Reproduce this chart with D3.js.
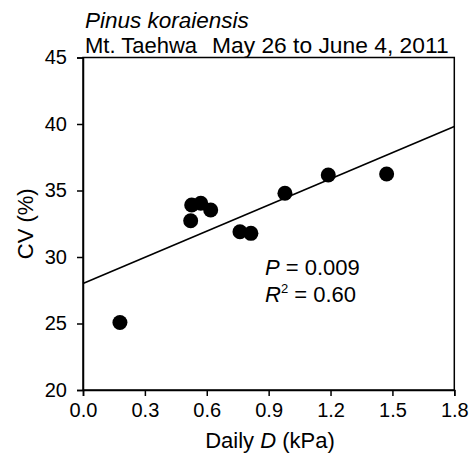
<!DOCTYPE html>
<html>
<head>
<meta charset="utf-8">
<script src="https://cdn.jsdelivr.net/npm/d3@7"></script>
<style>
  html, body { margin: 0; padding: 0; background: #fff; }
  svg { display: block; font-family: "Liberation Sans", Arial, sans-serif; }
</style>
</head>
<body>
<svg id="chart" width="470" height="458"></svg>
<script>
// Daily vapour pressure deficit (kPa) and coefficient of variation (%)
const dailyD = [0.179, 0.522, 0.527, 0.571, 0.619, 0.761, 0.814, 0.979, 1.189, 1.472];
const cv     = [25.08, 32.73, 33.91, 34.04, 33.53, 31.90, 31.78, 34.79, 36.17, 36.24];

const xTicks = [0, 0.3, 0.6, 0.9, 1.2, 1.5, 1.8];
const yTicks = [20, 25, 30, 35, 40, 45];

const titleSpecies = "Pinus koraiensis";
const titleSite = "Mt. Taehwa";
const titlePeriod = "May 26 to June 4, 2011";
const statP = "0.009";
const statR2 = "0.60";

const svg = d3.select("#chart");
const margin = { left: 83, right: 470 - 454.3, top: 57.5, bottom: 458 - 390 };
const W = 470, H = 458;

const x = d3.scaleLinear().domain([0, 1.8]).range([margin.left, W - margin.right]);
const y = d3.scaleLinear().domain([20, 45]).range([H - margin.bottom, margin.top]);

// least-squares fit of CV on daily D
const n = dailyD.length;
const mx = d3.mean(dailyD), my = d3.mean(cv);
let sxy = 0, sxx = 0;
for (let i = 0; i < n; i++) {
  sxy += (dailyD[i] - mx) * (cv[i] - my);
  sxx += (dailyD[i] - mx) ** 2;
}
const slope = sxy / sxx;
const intercept = my - slope * mx;

// frame
svg.append("rect")
  .attr("x", x(0)).attr("y", y(45))
  .attr("width", x(1.8) - x(0)).attr("height", y(20) - y(45))
  .attr("fill", "none").attr("stroke", "#000").attr("stroke-width", 1.5);

// axes
const fmtX = d3.format(".1f");
const gx = svg.append("g")
  .attr("transform", `translate(0,${y(20)})`)
  .call(d3.axisBottom(x).tickValues(xTicks).tickFormat(fmtX).tickSize(6).tickPadding(7));
const gy = svg.append("g")
  .attr("transform", `translate(${x(0)},0)`)
  .call(d3.axisLeft(y).tickValues(yTicks).tickSize(6).tickPadding(10));

[gx, gy].forEach(g => {
  g.select(".domain").attr("stroke", "#000").attr("stroke-width", 1.5);
  g.selectAll(".tick line").attr("stroke", "#000").attr("stroke-width", 1.5);
  g.selectAll(".tick text")
    .attr("fill", "#000")
    .attr("font-size", 20)
    .attr("font-family", "Liberation Sans, Arial, sans-serif");
});

// regression line
svg.append("line")
  .attr("x1", x(0)).attr("y1", y(intercept))
  .attr("x2", x(1.8)).attr("y2", y(intercept + slope * 1.8))
  .attr("stroke", "#000").attr("stroke-width", 1.6);

// observations
svg.append("g").selectAll("circle")
  .data(dailyD.map((d, i) => [d, cv[i]]))
  .join("circle")
  .attr("cx", d => x(d[0]))
  .attr("cy", d => y(d[1]))
  .attr("r", 7.5)
  .attr("fill", "#000");

// titles
svg.append("text")
  .attr("x", 85).attr("y", 27.5)
  .attr("font-size", 22.5).attr("font-style", "italic")
  .text(titleSpecies);
svg.append("text")
  .attr("x", 85).attr("y", 53)
  .attr("font-size", 22)
  .text(titleSite);
svg.append("text")
  .attr("x", 212).attr("y", 53)
  .attr("font-size", 22.8)
  .text(titlePeriod);

// axis titles
const xt = svg.append("text")
  .attr("x", 270).attr("y", 448)
  .attr("text-anchor", "middle")
  .attr("font-size", 22);
xt.append("tspan").text("Daily ");
xt.append("tspan").attr("font-style", "italic").text("D");
xt.append("tspan").text(" (kPa)");

svg.append("text")
  .attr("transform", `translate(33,${(y(20) + y(45)) / 2}) rotate(-90)`)
  .attr("text-anchor", "middle")
  .attr("font-size", 22)
  .text("CV (%)");

// statistics
const tp = svg.append("text").attr("x", 265).attr("y", 275).attr("font-size", 22);
tp.append("tspan").attr("font-style", "italic").text("P");
tp.append("tspan").text(" = " + statP);

const tr = svg.append("text").attr("x", 265).attr("y", 302).attr("font-size", 22);
tr.append("tspan").attr("font-style", "italic").text("R");
tr.append("tspan").attr("font-size", 13).attr("dy", -9).text("2");
tr.append("tspan").attr("dy", 9).text(" = " + statR2);
</script>
</body>
</html>
